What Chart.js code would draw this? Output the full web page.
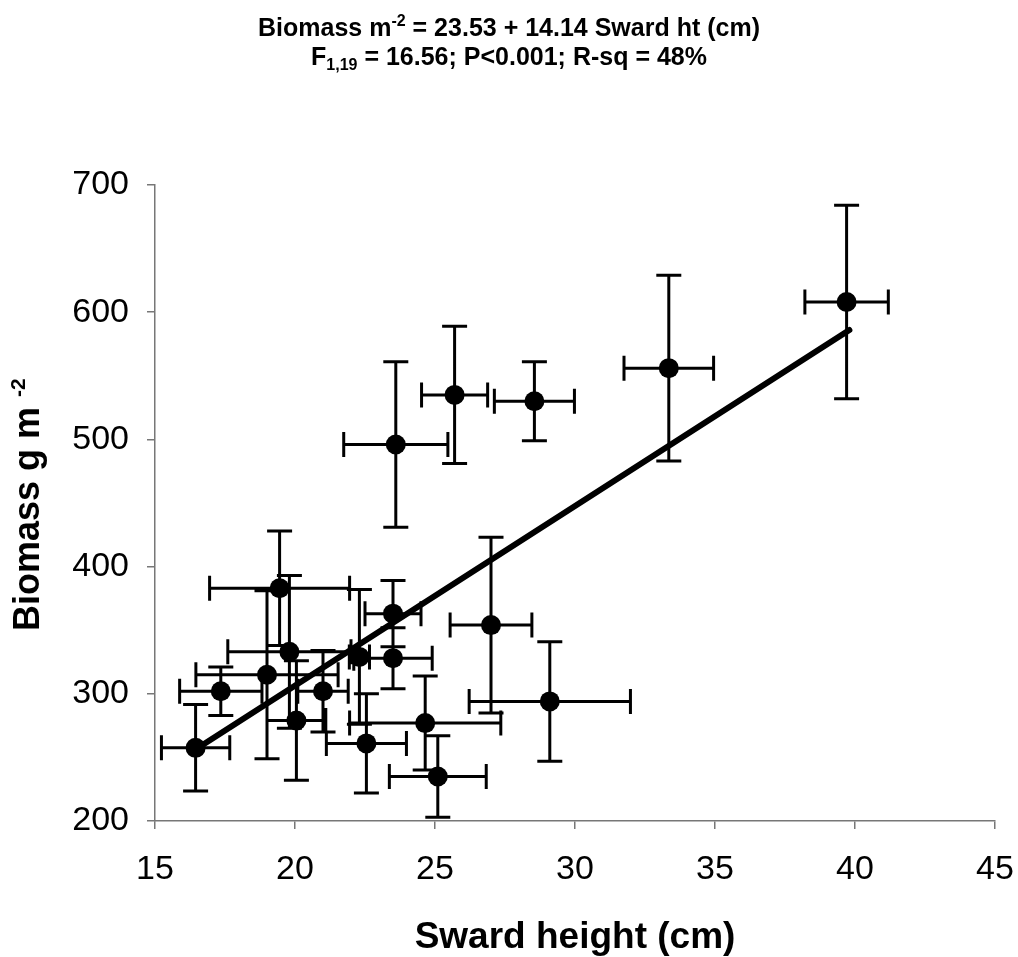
<!DOCTYPE html>
<html>
<head>
<meta charset="utf-8">
<title>Biomass vs sward height</title>
<script src="https://cdn.jsdelivr.net/npm/chart.js@4"></script>
<style>
    html, body { margin: 0; padding: 0; background: #fff; }
    canvas { display: block; }
</style>
</head>
<body>
<canvas id="chart" width="1018" height="957"></canvas>
<script>
// 読み取った値 (sward height cm, biomass g m-2, 誤差)
const swardHeight = [16.45, 17.35, 19.0, 19.45, 19.8, 20.05, 21.0, 22.3, 22.55, 23.5,
                     23.5, 23.6, 24.65, 25.1, 25.7, 27.0, 28.55, 29.1, 33.35, 39.7];
const biomass     = [257.5, 302, 315, 383, 333, 279, 302, 329, 261, 328,
                     363, 496, 277, 235, 535, 354, 530, 294, 556, 608];
const heightErr   = [1.22, 1.47, 2.54, 2.5, 2.2, 1.05, 0.9, 0.36, 1.43, 1.4,
                     1.0, 1.86, 2.7, 1.73, 1.18, 1.46, 1.43, 2.88, 1.6, 1.49];
const biomassErr  = [34, 19, 66, 45, 60, 47, 32, 53, 39, 24,
                     26, 65, 37, 32, 54, 69, 31, 47, 73, 76];

// 回帰直線の両端
const fitX = [16.43, 39.8];
const fitY = [256, 586];

const xTicks = [15, 20, 25, 30, 35, 40, 45];
const yTicks = [200, 300, 400, 500, 600, 700];

const FONT = "'Liberation Sans', Arial, sans-serif";
const AXIS_COLOR = '#777';

/**
 * エラーバー描画 (x, y 両方向)
 */
const errorBarPlugin = {
    id: 'errorBars',
    beforeDatasetsDraw(chart) {
        const ctx = chart.ctx;
        const xs = chart.scales.x;
        const ys = chart.scales.y;
        const cap = 12.5;
        ctx.save();
        ctx.strokeStyle = '#000';
        ctx.lineWidth = 3;
        ctx.beginPath();
        swardHeight.forEach((h, i) => {
            const px = xs.getPixelForValue(h);
            const py = ys.getPixelForValue(biomass[i]);
            const x0 = xs.getPixelForValue(h - heightErr[i]);
            const x1 = xs.getPixelForValue(h + heightErr[i]);
            const y0 = ys.getPixelForValue(biomass[i] - biomassErr[i]);
            const y1 = ys.getPixelForValue(biomass[i] + biomassErr[i]);
            // horizontal
            ctx.moveTo(x0, py); ctx.lineTo(x1, py);
            ctx.moveTo(x0, py - cap); ctx.lineTo(x0, py + cap);
            ctx.moveTo(x1, py - cap); ctx.lineTo(x1, py + cap);
            // vertical
            ctx.moveTo(px, y0); ctx.lineTo(px, y1);
            ctx.moveTo(px - cap, y0); ctx.lineTo(px + cap, y0);
            ctx.moveTo(px - cap, y1); ctx.lineTo(px + cap, y1);
        });
        ctx.stroke();
        ctx.restore();
    }
};

// 上付き・下付きを含むテキストを描画
function drawRuns(ctx, runs, x, y, align) {
    let total = 0;
    runs.forEach(r => {
        ctx.font = `bold ${r.size}px ${FONT}`;
        r.w = ctx.measureText(r.text).width;
        total += r.w;
    });
    let cx = align === 'center' ? x - total / 2 : x;
    runs.forEach(r => {
        ctx.font = `bold ${r.size}px ${FONT}`;
        ctx.fillText(r.text, cx, y + (r.dy || 0));
        cx += r.w;
    });
}

/**
 * タイトルと y 軸タイトル
 */
const titlePlugin = {
    id: 'titles',
    afterDraw(chart) {
        const ctx = chart.ctx;
        ctx.save();
        ctx.fillStyle = '#000';
        ctx.textAlign = 'left';
        ctx.textBaseline = 'alphabetic';

        drawRuns(ctx, [
            { text: 'Biomass m', size: 25 },
            { text: '-2', size: 16, dy: -10 },
            { text: ' = 23.53 + 14.14 Sward ht (cm)', size: 25 }
        ], 509, 36, 'center');
        drawRuns(ctx, [
            { text: 'F', size: 25 },
            { text: '1,19', size: 16, dy: 5 },
            { text: ' = 16.56; P<0.001; R-sq = 48%', size: 25 }
        ], 509, 65, 'center');

        // y 軸タイトル (回転)
        ctx.translate(39, 631);
        ctx.rotate(-Math.PI / 2);
        drawRuns(ctx, [
            { text: 'Biomass g m ', size: 36 },
            { text: '-2', size: 21, dy: -14 }
        ], 0, 0, 'left');
        ctx.restore();
    }
};

const canvas = document.getElementById('chart');
new Chart(canvas, {
    type: 'scatter',
    data: {
        datasets: [
            {
                type: 'line',
                label: 'fit',
                data: fitX.map((x, i) => ({ x: x, y: fitY[i] })),
                borderColor: '#000',
                borderWidth: 6,
                borderCapStyle: 'round',
                pointRadius: 0,
                fill: false
            },
            {
                label: 'biomass',
                data: swardHeight.map((h, i) => ({ x: h, y: biomass[i] })),
                backgroundColor: '#000',
                borderColor: '#000',
                borderWidth: 0,
                pointRadius: 10,
                pointHoverRadius: 10
            }
        ]
    },
    options: {
        responsive: false,
        animation: false,
        devicePixelRatio: 1,
        layout: { padding: { top: 185, right: 23, left: 0, bottom: 0 } },
        plugins: {
            legend: { display: false },
            tooltip: { enabled: false }
        },
        scales: {
            x: {
                type: 'linear',
                min: xTicks[0],
                max: xTicks[xTicks.length - 1],
                afterBuildTicks: s => { s.ticks = xTicks.map(v => ({ value: v })); },
                afterFit: s => {
                    s.height = 136;
                    s.paddingLeft = 0;
                    s.paddingRight = 0;
                },
                grid: { drawOnChartArea: false, drawTicks: true, tickLength: 8, color: AXIS_COLOR, lineWidth: 1.5 },
                border: { display: true, color: AXIS_COLOR, width: 1.5 },
                ticks: { color: '#000', padding: 20, font: { family: FONT, size: 34 }, maxRotation: 0 },
                title: {
                    display: true,
                    text: 'Sward height (cm)',
                    color: '#000',
                    font: { family: FONT, size: 37, weight: 'bold' },
                    padding: { top: 0, bottom: -3 }
                }
            },
            y: {
                type: 'linear',
                min: yTicks[0],
                max: yTicks[yTicks.length - 1],
                afterBuildTicks: s => { s.ticks = yTicks.map(v => ({ value: v })); },
                afterFit: s => {
                    s.width = 155;
                    s.paddingTop = 0;
                    s.paddingBottom = 0;
                },
                grid: { drawOnChartArea: false, drawTicks: true, tickLength: 8, color: AXIS_COLOR, lineWidth: 1.5 },
                border: { display: true, color: AXIS_COLOR, width: 1.5 },
                ticks: { color: '#000', padding: 18, font: { family: FONT, size: 34 } }
            }
        }
    },
    plugins: [errorBarPlugin, titlePlugin]
});
</script>
</body>
</html>
